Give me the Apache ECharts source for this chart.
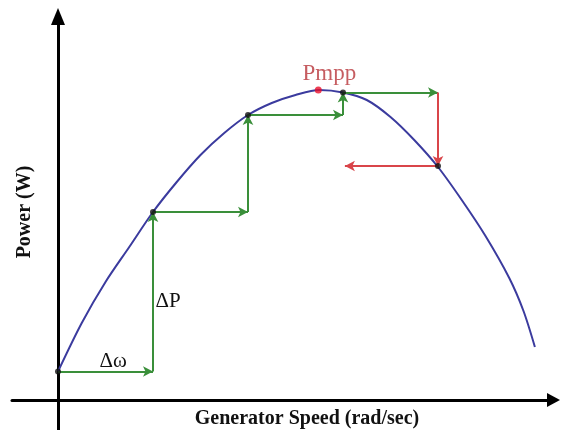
<!DOCTYPE html>
<html>
<head>
<meta charset="utf-8">
<script src="https://cdn.jsdelivr.net/npm/echarts@6/dist/echarts.min.js"></script>
<style>
  html, body { margin: 0; padding: 0; background: #fff; }
  #chart { width: 562px; height: 430px; }
</style>
</head>
<body>
<div id="chart"></div>
<script>
// P-omega curve (speed in step units, power in arbitrary units)
const curveSpeed = [0, 0.25, 0.5, 0.75, 1.0, 1.25, 1.5, 1.75, 2.0, 2.25, 2.5, 2.75,
  3.0, 3.25, 3.5, 3.75, 4.0, 4.25, 4.5, 4.75, 4.9, 5.02];
const curvePower = [0.285, 0.77, 1.18, 1.53, 1.88, 2.18, 2.45, 2.67, 2.85, 2.97, 3.05, 3.10,
  3.075, 3.00, 2.83, 2.60, 2.33, 2.00, 1.64, 1.22, 0.89, 0.53];

// hill-climbing operating points
const stepSpeed = [0, 1, 2, 3, 4];
const stepPower = [0.285, 1.88, 2.85, 3.075, 2.34];

// maximum power point
const mppSpeed = 2.74;
const mppPower = 3.10;

// end of the reversed (leftward) step
const reverseSpeed = 3.02;

const serif = "'Liberation Serif', 'Times New Roman', serif";
const green = '#3a8f3a';
const red = '#d9454a';

const curveData = curveSpeed.map((s, i) => [s, curvePower[i]]);
const stepData = stepSpeed.map((s, i) => [s, stepPower[i]]);

// green climbing arrows: horizontal Δω then vertical ΔP
const greenArrows = [];
for (let i = 0; i < 4; i++) {
  greenArrows.push([{ coord: [stepSpeed[i], stepPower[i]] }, { coord: [stepSpeed[i + 1], stepPower[i]] }]);
  if (i < 3) {
    greenArrows.push([{ coord: [stepSpeed[i + 1], stepPower[i]] }, { coord: [stepSpeed[i + 1], stepPower[i + 1]] }]);
  }
}
// red arrows: power drops, direction reverses
const redArrows = [
  [{ coord: [stepSpeed[4], stepPower[3]] }, { coord: [stepSpeed[4], stepPower[4]] }],
  [{ coord: [stepSpeed[4], stepPower[4]] }, { coord: [reverseSpeed, stepPower[4]] }]
];

const chart = echarts.init(document.getElementById('chart'));
const option = {
  animation: false,
  backgroundColor: '#fff',
  grid: {
    left: 12, right: 8.5, top: 16.5, bottom: 0,
    outerBoundsMode: 'none'
  },
  // axis titles
  graphic: [
    {
      type: 'text',
      x: 307, y: 419,
      style: {
        text: 'Generator Speed (rad/sec)',
        font: "bold 20px 'Liberation Serif', 'Times New Roman', serif",
        fill: '#111',
        textAlign: 'center',
        textVerticalAlign: 'middle'
      }
    },
    {
      type: 'text',
      x: 25, y: 212,
      rotation: Math.PI / 2,
      style: {
        text: 'Power (W)',
        font: "bold 20px 'Liberation Serif', 'Times New Roman', serif",
        fill: '#111',
        textAlign: 'center',
        textVerticalAlign: 'middle'
      }
    }
  ],
  xAxis: {
    type: 'value',
    min: -0.4842,
    max: 5.2158,
    axisLine: {
      onZero: true,
      symbol: ['none', 'triangle'],
      symbolSize: [14, 13],
      lineStyle: { color: '#000', width: 3 }
    },
    axisTick: { show: false },
    axisLabel: { show: false },
    splitLine: { show: false }
  },
  yAxis: {
    type: 'value',
    min: -0.30,
    max: 3.835,
    axisLine: {
      onZero: true,
      symbol: ['none', 'triangle'],
      symbolSize: [14, 17],
      lineStyle: { color: '#000', width: 3 }
    },
    axisTick: { show: false },
    axisLabel: { show: false },
    splitLine: { show: false }
  },
  series: [
    {
      type: 'line',
      data: curveData,
      smooth: 0.3,
      showSymbol: false,
      lineStyle: { color: '#3b3b9e', width: 2 },
      z: 3
    },
    {
      type: 'line',
      data: [],
      markLine: {
        silent: true,
        symbol: ['none', 'arrow'],
        symbolSize: [8, 10],
        label: { show: false },
        lineStyle: { color: green, width: 2, type: 'solid' },
        data: greenArrows
      },
      markPoint: {
        silent: true,
        symbol: 'circle',
        symbolSize: 0,
        label: { show: true, position: 'inside', color: '#111', fontFamily: serif, fontSize: 21 },
        data: [
          { coord: [1.16, 0.99], value: 'ΔP', label: { formatter: 'ΔP' } },
          { coord: [0.58, 0.39], value: 'Δω', label: { formatter: 'Δω' } }
        ]
      },
      z: 4
    },
    {
      type: 'line',
      data: [],
      markLine: {
        silent: true,
        symbol: ['none', 'arrow'],
        symbolSize: [8, 10],
        label: { show: false },
        lineStyle: { color: red, width: 2, type: 'solid' },
        data: redArrows
      },
      z: 4
    },
    {
      type: 'scatter',
      data: stepData,
      symbolSize: 6,
      itemStyle: { color: '#111' },
      z: 6
    },
    {
      type: 'scatter',
      data: [[mppSpeed, mppPower]],
      symbolSize: 7,
      itemStyle: { color: '#e8102a' },
      label: {
        show: true,
        position: 'top',
        distance: 1,
        offset: [11, 0],
        formatter: 'Pmpp',
        color: '#b8343a',
        fontFamily: serif,
        fontSize: 23
      },
      z: 6
    }
  ]
};
chart.setOption(option);
</script>
</body>
</html>
